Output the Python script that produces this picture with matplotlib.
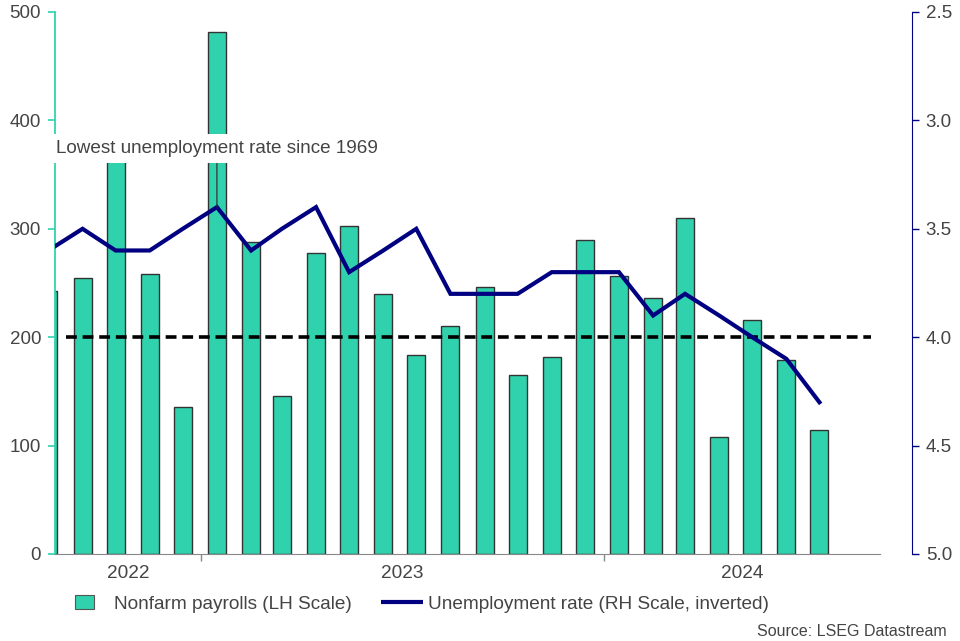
import pandas as pd
import numpy as np
import matplotlib
matplotlib.use("Agg")
import matplotlib.pyplot as plt
import matplotlib.patches as mpatches
from matplotlib.lines import Line2D
from matplotlib.legend_handler import HandlerPatch

plt.rcParams["font.family"] = ["Liberation Sans", "DejaVu Sans"]

# monthly data, Aug 2022 - Jul 2024
months = pd.date_range("2022-08-01", periods=24, freq="MS")
payrolls = [243, 255, 370, 258, 136, 482, 288, 146, 278, 303, 240, 184,
            210, 246, 165, 182, 290, 256, 236, 310, 108, 216, 179, 114]
unemployment = [3.6, 3.5, 3.6, 3.6, 3.5, 3.4, 3.6, 3.5, 3.4, 3.7, 3.6, 3.5,
                3.8, 3.8, 3.8, 3.7, 3.7, 3.7, 3.9, 3.8, 3.9, 4.0, 4.1, 4.3]
years = [2022, 2023, 2024]

ref_level = 200
ref_start = pd.Timestamp("2022-08-31")
ref_end = pd.Timestamp("2024-08-31")

note_text = "Lowest unemployment rate since 1969"
note_month = 5   # Jan 2023
note_value = 3.4

TEAL = "#30d2ae"
NAVY = "#000080"
GREY_TXT = "#444444"

dates = months + pd.Timedelta(days=14)
xmin = pd.Timestamp("2022-08-21")
xmax = pd.Timestamp("2024-09-08")

fig = plt.figure(figsize=(9.6, 6.41), dpi=100)
ax = fig.add_axes([55 / 960, 87 / 641, 825 / 960, 542 / 641])

ax.bar(dates, payrolls, width=16.4, color=TEAL, edgecolor="#333333",
       linewidth=1.0, zorder=2)
ax.set_xlim(xmin, xmax)
ax.set_ylim(0, 500)
ax.set_yticks([0, 100, 200, 300, 400, 500])

ax2 = ax.twinx()
ax2.set_ylim(5.0, 2.5)
ax2.set_yticks([2.5, 3.0, 3.5, 4.0, 4.5, 5.0])
ax2.yaxis.set_major_formatter(plt.FormatStrFormatter("%.1f"))

ax.hlines(ref_level, ref_start, ref_end, colors="black", linewidth=2.6,
          linestyles=(0, (3, 1.6)), zorder=3)
ax2.plot(dates, unemployment, color=NAVY, linewidth=3.0, zorder=4,
         solid_joinstyle="miter")

# spines
ax.spines["top"].set_visible(False)
ax2.spines["top"].set_visible(False)
ax.spines["right"].set_visible(False)
ax2.spines["left"].set_visible(False)
ax2.spines["bottom"].set_visible(False)
ax.spines["left"].set_color(TEAL)
ax.spines["left"].set_linewidth(1.3)
ax.spines["bottom"].set_color("#888888")
ax2.spines["right"].set_color(NAVY)
ax2.spines["right"].set_position(("outward", 23))

ax.tick_params(axis="y", colors=TEAL, labelcolor=GREY_TXT, labelsize=13.5,
               length=5, width=1.2, pad=5)
ax2.tick_params(axis="y", colors=NAVY, labelcolor=GREY_TXT, labelsize=13.5,
                length=5, width=1.0, pad=5)

# year separators as major ticks, year labels centred in the visible span
bounds = [pd.Timestamp(f"{y}-01-01") for y in years[1:]]
centres = []
for y in years:
    lo = max(xmin, pd.Timestamp(f"{y}-01-01"))
    hi = min(xmax, pd.Timestamp(f"{y + 1}-01-01"))
    centres.append(lo + (hi - lo) / 2)
ax.set_xticks(bounds)
ax.set_xticklabels([])
ax.set_xticks(centres, minor=True)
ax.set_xticklabels([str(y) for y in years], minor=True)
ax.tick_params(axis="x", which="major", colors="#888888", length=5, width=1)
ax.tick_params(axis="x", which="minor", length=0, labelsize=13.7,
               labelcolor=GREY_TXT, pad=8)

# annotation with white box
ax2.annotate(note_text, xy=(dates[note_month], note_value),
             xytext=(dates[note_month], 3.13), textcoords="data",
             ha="center", va="center", fontsize=13.6, color=GREY_TXT,
             bbox=dict(boxstyle="square,pad=0.33", fc="white", ec="none"),
             arrowprops=dict(arrowstyle="-", color="#333333", lw=0.9,
                             shrinkA=0, shrinkB=0),
             zorder=6)

# legend
def small_box(legend, orig_handle, xdescent, ydescent, width, height, fontsize):
    h = height * 1.05
    w = h * 1.35
    return mpatches.Rectangle((-xdescent + 6.0, -ydescent + (height - h) / 2), w, h)

h1 = mpatches.Patch(facecolor=TEAL, edgecolor="#555555", linewidth=0.8,
                    label="Nonfarm payrolls (LH Scale)")
h2 = Line2D([], [], color=NAVY, linewidth=3.0, solid_capstyle="butt",
            label="Unemployment rate (RH Scale, inverted)")
fig.legend(handles=[h1, h2], loc="center", bbox_to_anchor=(418 / 960, 1 - 604 / 641),
           ncol=2, frameon=False, fontsize=13.7, labelcolor=GREY_TXT,
           handlelength=2.2, handletextpad=0.3, columnspacing=1.5,
           handler_map={mpatches.Patch: HandlerPatch(patch_func=small_box)})

fig.text(947 / 960, 1 - 632 / 641, "Source: LSEG Datastream", ha="right",
         va="center", fontsize=11.5, color=GREY_TXT)

fig.savefig("out.png", dpi=100)
